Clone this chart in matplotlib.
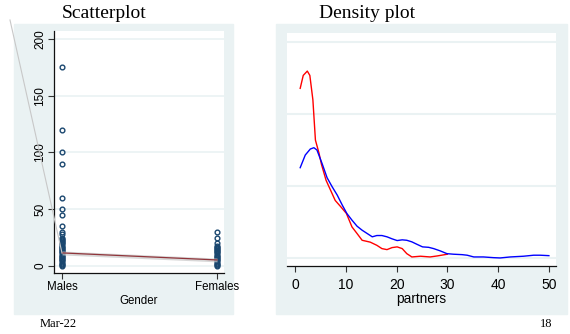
"""Scatterplot of partners by gender next to a density plot of partners."""
import matplotlib

matplotlib.use("Agg")
import matplotlib.pyplot as plt  # noqa: E402
from matplotlib.lines import Line2D  # noqa: E402
from matplotlib.patches import Rectangle  # noqa: E402

# --- data ---
groups = ["Males", "Females"]
males = list(range(0, 26)) + [28, 30, 35, 45, 50, 60, 90, 100, 120, 175]
females = list(range(0, 19)) + [20, 25, 30]
fit_y = [11.5, 5.3]
fit_lo = [9.7, 3.6]
fit_hi = [13.2, 7.0]

red_x = [1.0, 1.6, 2.4, 2.9, 3.5, 4.0, 4.7, 5.2, 6.1, 7.0, 7.9, 8.9, 10.1, 11.2,
         12.2, 13.2, 14.8, 16.1, 17.1, 18.1, 19.1, 20.1, 21.1, 22.0, 23.0, 24.7,
         26.6, 28.0, 30.0]
red_y = [0.118, 0.127, 0.130, 0.127, 0.110, 0.082, 0.073, 0.065, 0.054, 0.047,
         0.040, 0.036, 0.031, 0.0216, 0.017, 0.0123, 0.011, 0.0088, 0.0065,
         0.0058, 0.0072, 0.0077, 0.0065, 0.003, 0.0007, 0.0012, 0.0007, 0.0014,
         0.0026]
blue_x = [1.0, 2.0, 3.0, 3.7, 4.3, 5.3, 6.3, 7.3, 8.3, 9.3, 10.2, 11.2, 12.2,
          13.2, 14.2, 15.2, 16.1, 17.1, 18.1, 19.1, 20.1, 21.1, 22.0, 23.0, 24.0,
          25.1, 26.3, 27.3, 28.6, 29.9, 31.2, 32.9, 33.9, 35.2, 37.1, 39.1, 40.4,
          42.4, 45.0, 47.0, 48.3, 50.0]
blue_y = [0.0628, 0.0716, 0.0758, 0.0767, 0.0751, 0.0658, 0.0558, 0.0495, 0.0437,
          0.0367, 0.0309, 0.0263, 0.0221, 0.0193, 0.0170, 0.0147, 0.0156, 0.0156,
          0.0147, 0.0133, 0.0121, 0.0126, 0.0123, 0.0112, 0.0095, 0.0077, 0.0074,
          0.0065, 0.0049, 0.003, 0.0026, 0.0023, 0.0019, 0.0007, 0.0007, 0.0002,
          0.0, 0.0007, 0.0012, 0.0019, 0.0019, 0.0016]

BG = "#EAF2F3"
NAVY = "#1A476F"
W, H = 570, 334


def fx(px):
    return px / W


def fy(py):
    return 1 - py / H


def panel_bg(fig, x0, y0, x1, y1):
    fig.add_artist(Rectangle((fx(x0), fy(y1)), fx(x1) - fx(x0), fy(y0) - fy(y1),
                             transform=fig.transFigure, color=BG, zorder=0))


def scatter_panel(fig):
    panel_bg(fig, 14, 24, 233, 314)
    ax = fig.add_axes([fx(54), fy(273), fx(224) - fx(54), fy(31) - fy(273)])
    ax.set_facecolor("white")
    for v in [0, 50, 100, 150, 200]:
        ax.axhline(v, color=BG, lw=1.2, zorder=1)
    ax.plot([0] * len(males), males, "o", mfc="none", mec=NAVY, ms=3.4, mew=1.0, zorder=3)
    ax.plot([1] * len(females), females, "o", mfc="none", mec=NAVY, ms=3.4, mew=1.0, zorder=3)
    ax.fill_between([0, 1], fit_lo, fit_hi, color="#C8C8C8", alpha=0.7, lw=0, zorder=4)
    ax.plot([0, 1], fit_y, color="#90353B", lw=0.9, zorder=5)
    ax.set_xlim(-0.052, 1.045)
    ax.set_ylim(-6.2, 207)
    ax.set_xticks([0, 1])
    ax.set_xticklabels(groups, fontsize=8.3, family="Liberation Sans")
    ax.set_yticks([0, 50, 100, 150, 200])
    ax.set_yticklabels(["0", "50", "100", "150", "200"], fontsize=8.5,
                       family="Liberation Sans", rotation=90, va="center")
    ax.set_xlabel("Gender", fontsize=8.3, family="Liberation Sans", labelpad=1)
    ax.tick_params(length=4, width=0.8, color="#333333", pad=2)
    ax.tick_params(axis="y", pad=1.5)
    for s in ["top", "right"]:
        ax.spines[s].set_visible(False)
    for s in ["left", "bottom"]:
        ax.spines[s].set_color("#111111")
        ax.spines[s].set_linewidth(0.9)
    fig.text(fx(62), fy(18), "Scatterplot", fontsize=14, family="Liberation Serif")


def density_panel(fig):
    panel_bg(fig, 276, 24, 567, 314)
    ax = fig.add_axes([fx(287), fy(266), fx(556) - fx(287), fy(33) - fy(266)])
    ax.set_facecolor("white")
    for v in [0, 0.05, 0.1, 0.15]:
        ax.axhline(v, color=BG, lw=1.5, zorder=1)
    ax.plot(red_x, red_y, color="#FF0000", lw=1.0, zorder=3)
    ax.plot(blue_x, blue_y, color="#0000FF", lw=1.0, zorder=3)
    ax.set_xlim(-1.6, 51.4)
    ax.set_ylim(-0.0056, 0.1565)
    ax.set_xticks([0, 10, 20, 30, 40, 50])
    ax.set_xticklabels(["0", "10", "20", "30", "40", "50"], fontsize=10,
                       family="Liberation Sans")
    ax.set_yticks([])
    ax.set_xlabel("partners", fontsize=9.8, family="Liberation Sans", labelpad=0)
    ax.tick_params(length=4.5, width=0.8, color="#333333", pad=4)
    for s in ["top", "right", "left"]:
        ax.spines[s].set_visible(False)
    ax.spines["bottom"].set_color("#111111")
    ax.spines["bottom"].set_linewidth(0.9)
    fig.text(fx(319), fy(18), "Density plot", fontsize=14, family="Liberation Serif")


fig = plt.figure(figsize=(W / 100, H / 100), dpi=100)
scatter_panel(fig)
density_panel(fig)

# faint slide line crossing the left panel
fig.add_artist(Line2D([fx(10), fx(62)], [fy(20), fy(253)], color="#C8C8C8",
                      lw=0.8, transform=fig.transFigure, zorder=6))

fig.text(fx(40), fy(327), "Mar-22", fontsize=9, family="Liberation Serif")
fig.text(fx(540), fy(327), "18", fontsize=9, family="Liberation Serif")

fig.savefig("out.png", dpi=100)
